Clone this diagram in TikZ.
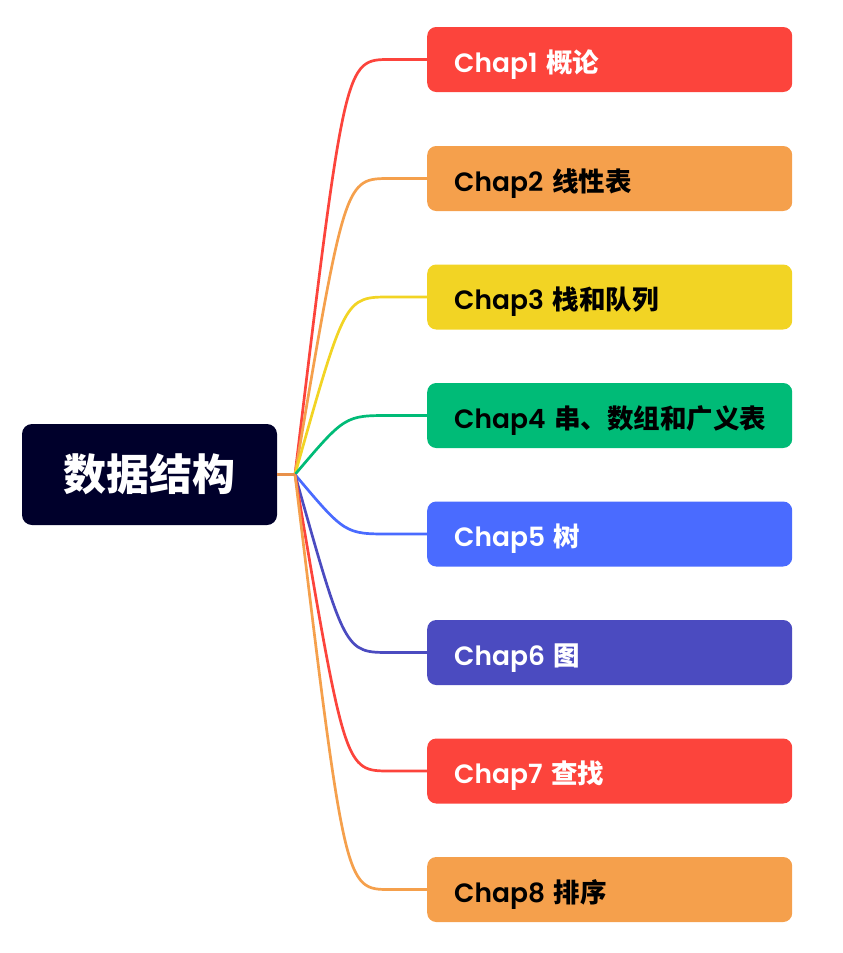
\documentclass[tikz,border=0pt]{standalone}
\usepackage{fontspec}
\newfontfamily\lat{Poppins}[BoldFont={Poppins SemiBold}]
\newfontfamily\cjk{Noto Sans CJK SC}
\definecolor{cred}{HTML}{FC443C}
\definecolor{corange}{HTML}{F5A04C}
\definecolor{cyellow}{HTML}{F2D424}
\definecolor{cgreen}{HTML}{00BB77}
\definecolor{cblue}{HTML}{4A6BFF}
\definecolor{cindigo}{HTML}{4B4BC0}
\definecolor{croot}{HTML}{00002B}
\definecolor{cstub}{HTML}{E8904A}
\newcommand{\chaptext}[2]{\mbox{\lat #1 \cjk #2}}
\begin{document}
\begin{tikzpicture}[x=1pt,y=-1pt,
  chapbox/.style={anchor=west, rounded corners=9pt, minimum height=65pt,
    inner xsep=27pt, inner ysep=0pt, text width=311pt, align=left,
    text height=29pt, text depth=4pt,
    font=\fontsize{26.5}{30}\selectfont\bfseries},
  link/.style={line width=2.7pt},
  rootbox/.style={fill=croot, rounded corners=10pt, minimum width=255pt,
    minimum height=101pt, text=white, inner sep=0pt,
    font=\fontsize{43}{48}\selectfont\cjk\bfseries}]
\useasboundingbox (0,0) rectangle (843,953);
\node[rootbox] (root) at (149.5,474.5) {数据结构};
\coordinate (j) at (295,474.5);
\coordinate (ctl) at (345,0);
\coordinate (bend) at (390,0);
\node[chapbox, fill=cred, text=white] (c1) at (427,59.5) {\chaptext{Chap1}{概论}};
\node[chapbox, fill=corange, text=black] (c2) at (427,178.5) {\chaptext{Chap2}{线性表}};
\node[chapbox, fill=cyellow, text=black] (c3) at (427,297) {\chaptext{Chap3}{栈和队列}};
\node[chapbox, fill=cgreen, text=black] (c4) at (427,415.5) {\chaptext{Chap4}{串、数组和广义表}};
\node[chapbox, fill=cblue, text=white] (c5) at (427,534) {\chaptext{Chap5}{树}};
\node[chapbox, fill=cindigo, text=white] (c6) at (427,652.5) {\chaptext{Chap6}{图}};
\node[chapbox, fill=cred, text=white] (c7) at (427,771) {\chaptext{Chap7}{查找}};
\node[chapbox, fill=corange, text=black] (c8) at (427,889.5) {\chaptext{Chap8}{排序}};
\foreach \n/\c in {c1/cred,c2/corange,c3/cyellow,c4/cgreen,c5/cblue,c6/cindigo,c7/cred,c8/corange}{
  \draw[link, draw=\c] (j) .. controls (\n.west -| ctl) .. (\n.west -| bend) -- (\n.west);
}
\draw[link, draw=cstub] (root.east) -- (j);
\end{tikzpicture}
\end{document}
